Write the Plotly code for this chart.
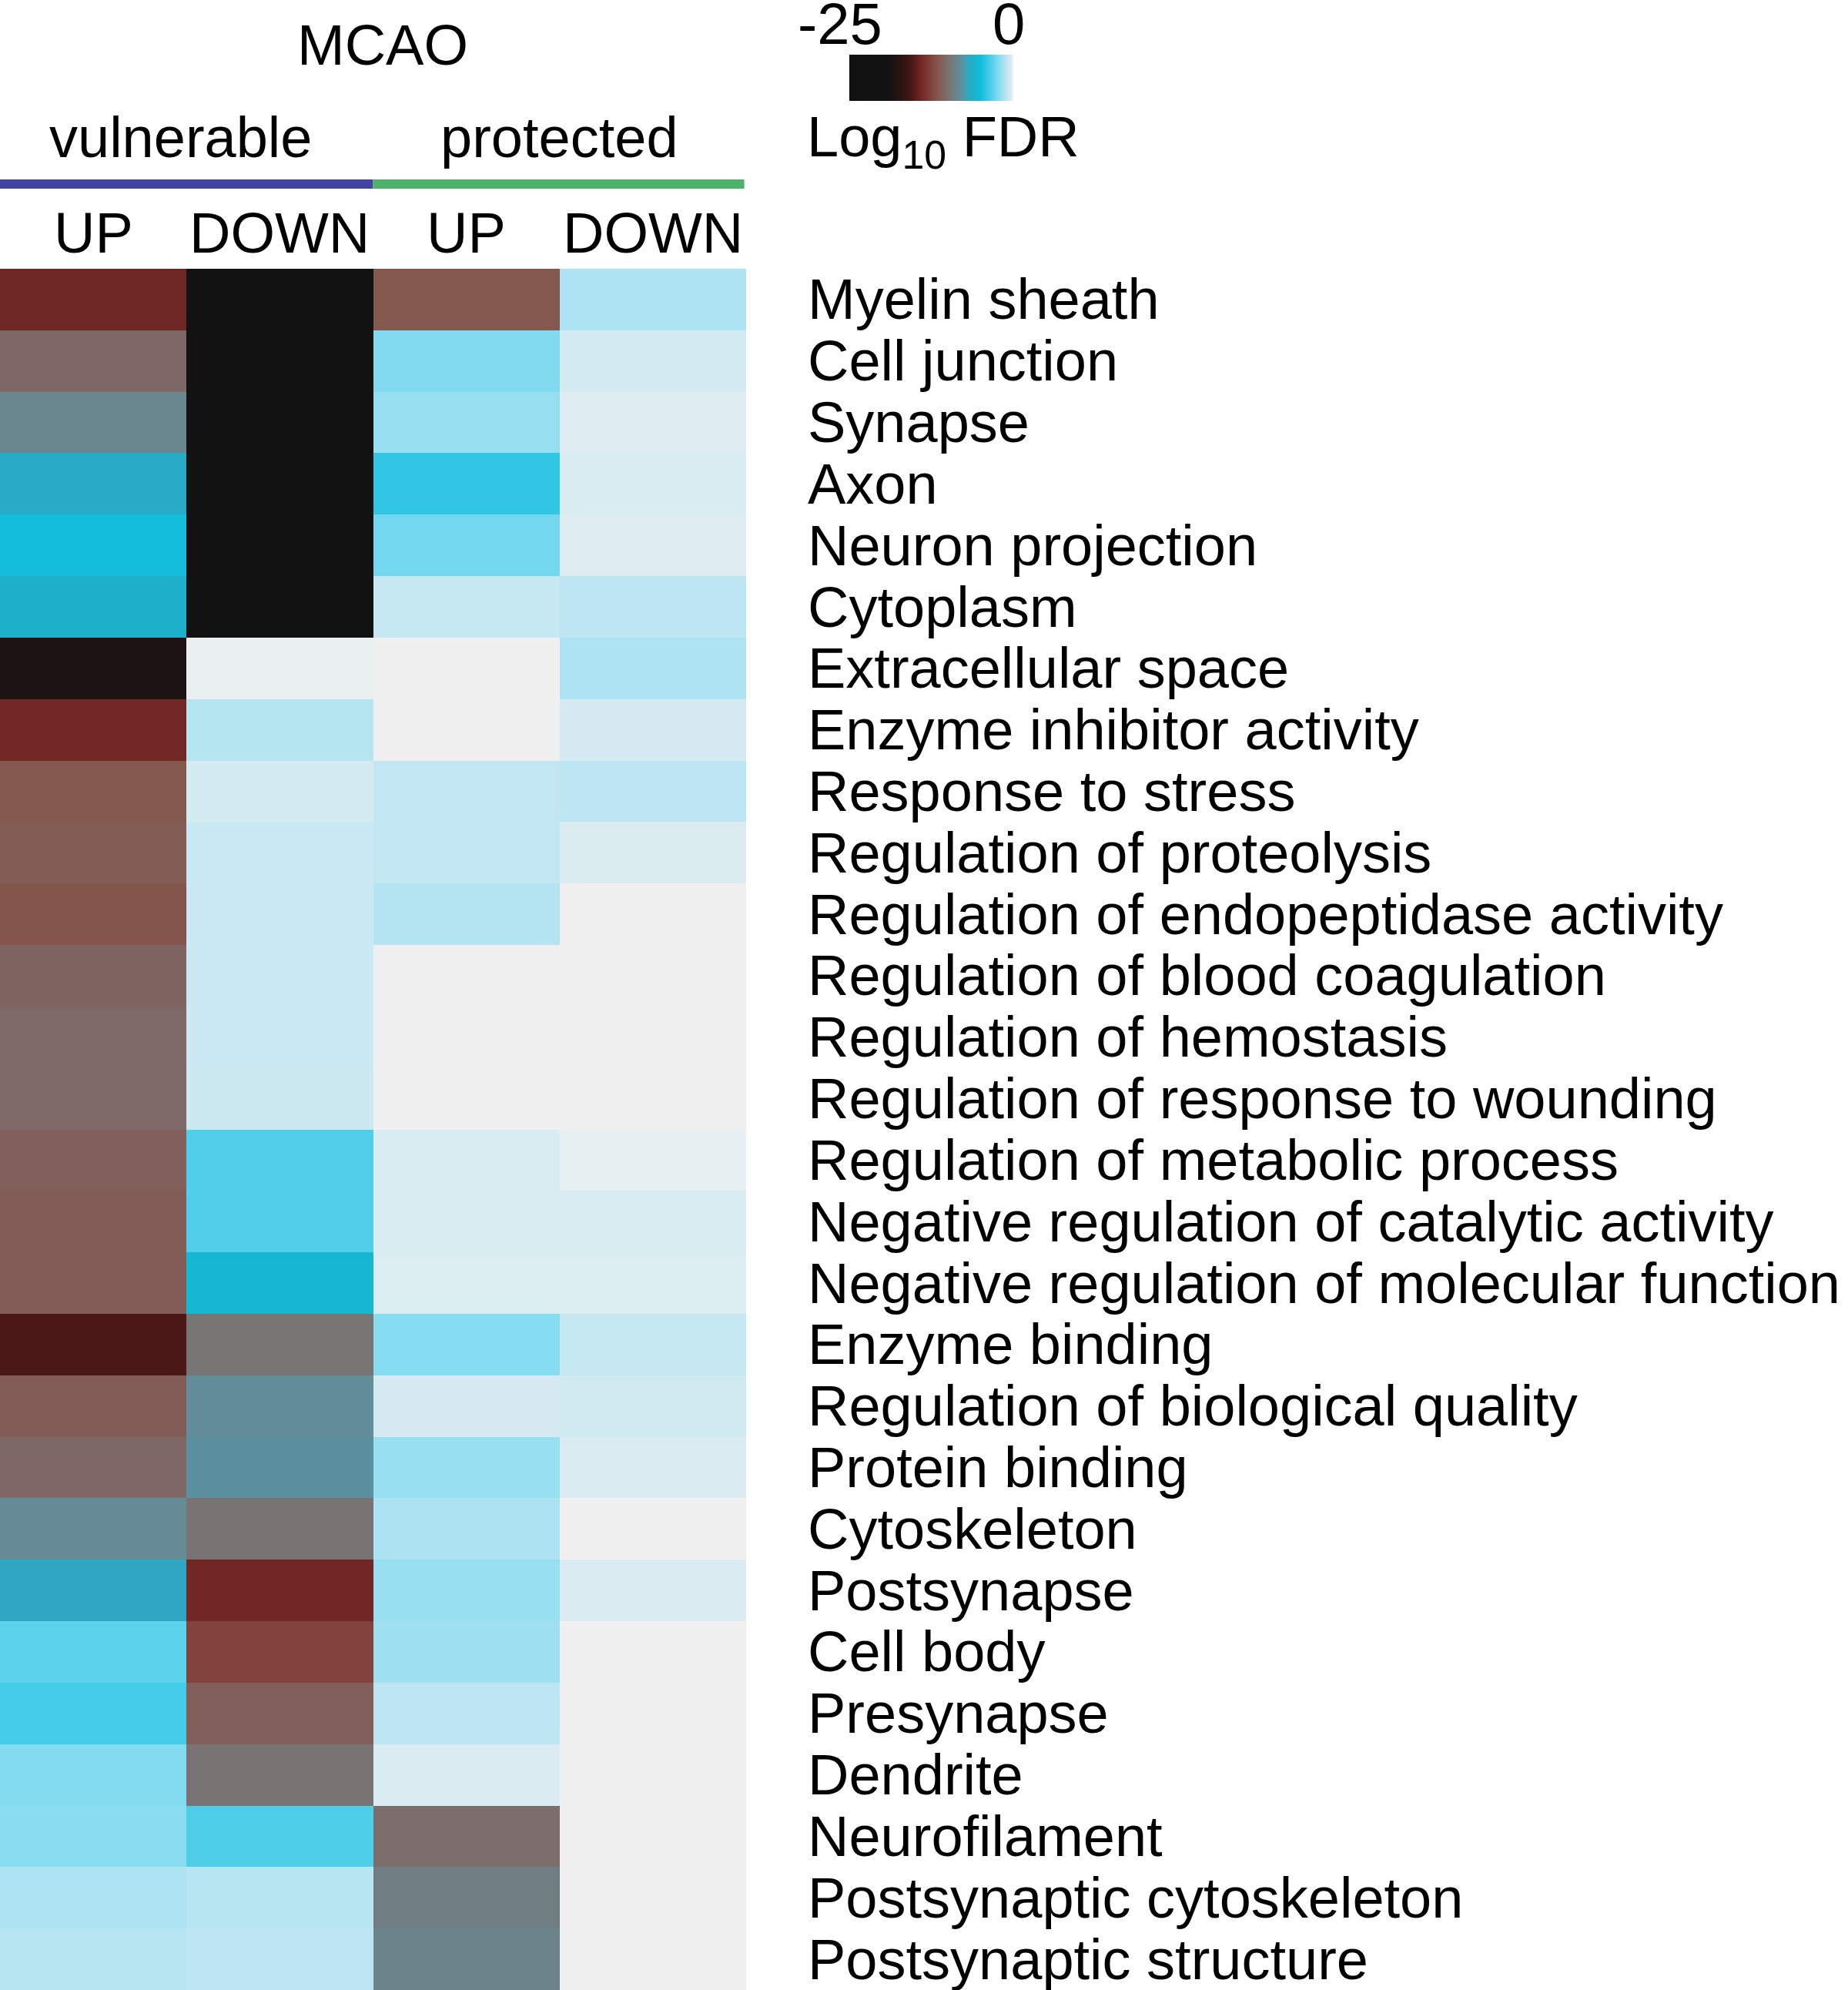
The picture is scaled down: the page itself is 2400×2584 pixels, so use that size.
import plotly.graph_objects as go

FONT = "Liberation Sans, Arial, Helvetica, sans-serif"

# ── data ──────────────────────────────────────────────────────────────────────
terms = [
    "Myelin sheath", "Cell junction", "Synapse", "Axon", "Neuron projection",
    "Cytoplasm", "Extracellular space", "Enzyme inhibitor activity",
    "Response to stress", "Regulation of proteolysis",
    "Regulation of endopeptidase activity", "Regulation of blood coagulation",
    "Regulation of hemostasis", "Regulation of response to wounding",
    "Regulation of metabolic process", "Negative regulation of catalytic activity",
    "Negative regulation of molecular function", "Enzyme binding",
    "Regulation of biological quality", "Protein binding", "Cytoskeleton",
    "Postsynapse", "Cell body", "Presynapse", "Dendrite", "Neurofilament",
    "Postsynaptic cytoskeleton", "Postsynaptic structure",
]
columns = ["vuln UP", "vuln DOWN", "prot UP", "prot DOWN"]
col_labels = ["UP", "DOWN", "UP", "DOWN"]
groups = ["vulnerable", "protected"]

# log10 FDR per term, columns: vulnerable UP/DOWN, protected UP/DOWN
vuln_up = [-14.1, -10.5, -8.6, -6.5, -4.9, -6.1, -18.0, -14.0, -11.5, -11.2,
           -11.6, -10.7, -10.4, -10.4, -11.0, -11.1, -11.1, -15.5, -11.1, -10.5,
           -8.2, -6.8, -3.1, -3.7, -2.25, -2.1, -1.3, -1.1]
vuln_down = [-22, -22, -22, -22, -22, -22, -0.12, -1.15, -0.55, -0.75,
             -0.75, -0.75, -0.75, -0.7, -3.4, -3.4, -5.5, -9.7, -8.1, -7.9,
             -9.8, -14.05, -12.5, -11.0, -9.8, -3.45, -1.1, -1.0]
prot_up = [-11.5, -2.3, -1.85, -4.2, -2.6, -0.85, 0, 0, -0.9, -0.9,
           -1.2, 0, 0, 0, -0.45, -0.45, -0.38, -2.2, -0.5, -1.8,
           -1.4, -1.8, -1.65, -1.0, -0.42, -10.1, -9.1, -8.8]
prot_down = [-1.35, -0.55, -0.35, -0.45, -0.35, -1.0, -1.35, -0.5, -1.0, -0.4,
             0, 0, 0, 0, -0.2, -0.45, -0.38, -0.85, -0.6, -0.42,
             0, -0.42, 0, 0, 0, 0, 0, 0]

cb_ticks = [-25, 0]

# colour scale (value → colour), black → red → grey → cyan → white
_stops = [
    (-25, "#111111"), (-19, "#121212"), (-17, "#2a1413"), (-15.5, "#4a1816"),
    (-14, "#722824"), (-12.5, "#83423e"), (-11.5, "#84574f"), (-10.5, "#7f6766"),
    (-9.8, "#797373"), (-9, "#6f8085"), (-8, "#628e9b"), (-7, "#34a5bf"),
    (-6, "#1cb1cc"), (-5, "#0fbcda"), (-4, "#38c8e6"), (-3, "#60d2ec"),
    (-2, "#8fdef1"), (-1, "#bde6f2"), (-0.5, "#d6ebf1"), (-0.2, "#e6eff1"),
    (0, "#f0f0f0"),
]
colorscale = [[(v + 25) / 25, c] for v, c in _stops]

z = [list(r) for r in zip(vuln_up, vuln_down, prot_up, prot_down)]

W, H = 2400, 2584
def py(px):  # pixel from top → paper y
    return 1 - px / H

# colour bar geometry (px)
CB_X0, CB_X1, CB_Y = 1103, 1316, 101

fig = go.Figure()
fig.add_trace(go.Heatmap(
    z=z, x=columns, y=terms, zmin=-25, zmax=0,
    colorscale=colorscale, hoverongaps=False,
    colorbar=dict(
        orientation="h", xref="container", yref="container",
        x=(CB_X0 + CB_X1) / 2 / W, xanchor="center", y=py(CB_Y), yanchor="middle",
        lenmode="pixels", len=CB_X1 - CB_X0, thickness=60,
        outlinewidth=0, xpad=0, ypad=0,
        showticklabels=False, ticks="",
    ),
))

ann = []
for t in terms:
    ann.append(dict(x=1047 / W, xref="paper", y=t, yref="y", text=t,
                    xanchor="left", yanchor="middle", showarrow=False,
                    font=dict(family=FONT, size=74, color="black")))
for c, lbl in zip(columns, col_labels):
    ann.append(dict(x=c, xref="x", y=py(302), yref="paper", text=lbl,
                    xanchor="center", yanchor="middle", showarrow=False,
                    font=dict(family=FONT, size=74, color="black")))
for i, g in enumerate(groups):
    ann.append(dict(x=2 * i + (0.47 if i == 0 else 0.5), xref="x", y=py(178),
                    yref="paper", text=g,
                    xanchor="center", yanchor="middle", showarrow=False,
                    font=dict(family=FONT, size=74, color="black")))
ann.append(dict(x=1.55, xref="x", y=py(58), yref="paper", text="MCAO",
                xanchor="center", yanchor="middle", showarrow=False,
                font=dict(family=FONT, size=74, color="black")))
ann.append(dict(x=1046 / W, xref="paper", y=py(183), yref="paper",
                text="Log<sub>10</sub> FDR",
                xanchor="left", yanchor="middle", showarrow=False,
                font=dict(family=FONT, size=74, color="black")))
# colour bar end labels
for v in cb_ticks:
    px = CB_X0 + (v - cb_ticks[0]) / (cb_ticks[-1] - cb_ticks[0]) * (CB_X1 - CB_X0)
    ann.append(dict(x=(px - 12 if v == cb_ticks[0] else px - 6) / W, xref="paper",
                    y=py(30), yref="paper", text=str(v),
                    xanchor="center", yanchor="middle", showarrow=False,
                    font=dict(family=FONT, size=76, color="black")))

shapes = [
    dict(type="line", xref="x", yref="paper", x0=-0.5, x1=1.5, y0=py(239), y1=py(239),
         line=dict(color="#4343a0", width=12)),
    dict(type="line", xref="x", yref="paper", x0=1.5, x1=3.49, y0=py(239), y1=py(239),
         line=dict(color="#4db36b", width=12)),
]

fig.update_layout(
    width=W, height=H,
    margin=dict(l=0, r=0, t=0, b=0, autoexpand=False),
    paper_bgcolor="white", plot_bgcolor="white",
    xaxis=dict(domain=[0, 969 / W], range=[-0.5, 3.5], showticklabels=False,
               showgrid=False, zeroline=False, ticks=""),
    yaxis=dict(domain=[0, py(349)], range=[len(terms) - 0.5, -0.5],
               showticklabels=False, showgrid=False, zeroline=False, ticks=""),
    annotations=ann, shapes=shapes,
    font=dict(family=FONT),
)

# drop the default 8px page margin so the figure sits at the window corner
fig.write_html("out.html", config={"displayModeBar": False},
               post_script="document.body.style.margin='0';")
